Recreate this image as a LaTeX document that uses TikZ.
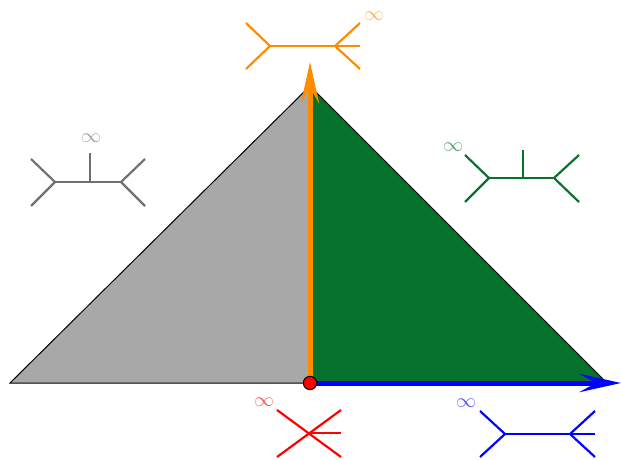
\documentclass[tikz,border=0pt]{standalone}
\usetikzlibrary{arrows.meta}
\definecolor{triGreen}{HTML}{06722E}
\definecolor{triGray}{HTML}{A8A8A8}
\definecolor{treeGray}{HTML}{707070}
\definecolor{myOrange}{HTML}{FF8C00}
\tikzset{
  tree/.style={line width=1.3pt},
  inflabel/.style={inner sep=0pt, opacity=0.65, font=\large},
  axisarrow/.style={line width=3pt, -{Stealth[length=25pt,width=11pt,inset=10pt]}},
}
\begin{document}
\begin{tikzpicture}[x=0.6pt,y=-0.6pt]
\useasboundingbox (0,0) rectangle (621,460);
% triangle
\coordinate (L) at (10,383);
\coordinate (A) at (310,86);
\coordinate (R) at (607,383);
\coordinate (O) at (310,383);
\fill[triGray] (L) -- (A) -- (O) -- cycle;
\fill[triGreen] (O) -- (A) -- (R) -- cycle;
\draw[line width=0.6pt] (L) -- (A) -- (R) -- cycle;
% arrows
\coordinate (Otop) at (310,62);
\coordinate (Oright) at (621,383);
\draw[axisarrow, myOrange] (O) -- (Otop);
\draw[axisarrow, blue] (O) -- (Oright);
\node[circle, fill=red, draw=black, line width=0.6pt, minimum size=8pt, inner sep=0pt] (dot) at (O) {};
% orange tree
\begin{scope}[myOrange, tree]
\coordinate (o1) at (270,46); \coordinate (o2) at (335,46);
\draw (246,23) -- (o1) -- (246,69);
\draw (o1) -- (o2);
\draw (360,23) -- (o2) -- (360,69);
\draw (o2) -- (360,46);
\end{scope}
\node[inflabel, text=myOrange] (oinf) at (374,16) {$\infty$};
% gray tree
\begin{scope}[treeGray, tree]
\coordinate (g1) at (55,182); \coordinate (g2) at (121,182); \coordinate (gm) at (90,182);
\draw (31,159) -- (g1) -- (31,206);
\draw (g1) -- (g2);
\draw (gm) -- (90,153);
\draw (145,159) -- (g2) -- (145,206);
\end{scope}
\node[inflabel, text=treeGray] (ginf) at (91,138) {$\infty$};
% green tree
\begin{scope}[triGreen, tree]
\coordinate (e1) at (489,178); \coordinate (e2) at (554,178); \coordinate (em) at (523,178);
\draw (465,155) -- (e1) -- (465,202);
\draw (e1) -- (e2);
\draw (em) -- (523,150);
\draw (579,155) -- (e2) -- (579,202);
\end{scope}
\node[inflabel, text=triGreen] (einf) at (453,147) {$\infty$};
% red tree
\begin{scope}[red, tree]
\coordinate (r1) at (309,433);
\draw (277,410) -- (341,457);
\draw (277,457) -- (341,410);
\draw (r1) -- (341,433);
\end{scope}
\node[inflabel, text=red] (rinf) at (264,402) {$\infty$};
% blue tree
\begin{scope}[blue, tree]
\coordinate (b1) at (505,434); \coordinate (b2) at (570,434);
\draw (480,411) -- (b1) -- (480,457);
\draw (b1) -- (b2);
\draw (595,411) -- (b2) -- (595,457);
\draw (b2) -- (595,434);
\end{scope}
\node[inflabel, text=blue] (binf) at (466,403) {$\infty$};
\end{tikzpicture}
\end{document}
